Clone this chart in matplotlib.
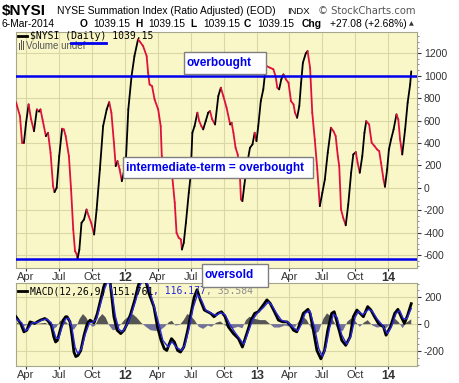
import numpy as np
import pandas as pd
import matplotlib
matplotlib.use("Agg")
import matplotlib.pyplot as plt
import matplotlib.dates as mdates
from matplotlib.collections import LineCollection
from matplotlib.patches import Rectangle
from matplotlib.lines import Line2D
from matplotlib.ticker import MultipleLocator

# $NYSI summation index
nysi_dates = [
    "2011-03-04", "2011-03-15", "2011-03-21", "2011-03-26", "2011-04-01", "2011-04-08", "2011-04-15",
    "2011-04-23", "2011-05-01", "2011-05-07", "2011-05-11", "2011-05-17", "2011-05-26", "2011-06-01",
    "2011-06-08", "2011-06-15", "2011-06-19", "2011-06-25", "2011-07-02", "2011-07-10", "2011-07-15",
    "2011-07-20", "2011-07-29", "2011-08-04", "2011-08-10", "2011-08-15", "2011-08-19", "2011-08-22",
    "2011-08-27", "2011-09-02", "2011-09-09", "2011-09-16", "2011-09-22", "2011-09-29", "2011-10-07",
    "2011-10-14", "2011-10-23", "2011-11-01", "2011-11-11", "2011-11-18", "2011-11-24", "2011-12-01",
    "2011-12-06", "2011-12-11", "2011-12-17", "2011-12-23", "2012-01-03", "2012-01-10", "2012-01-19",
    "2012-01-27", "2012-02-06", "2012-02-10", "2012-02-20", "2012-03-01", "2012-03-05", "2012-03-09",
    "2012-03-16", "2012-03-23", "2012-04-02", "2012-04-09", "2012-04-12", "2012-04-26", "2012-05-11",
    "2012-05-18", "2012-05-23", "2012-05-29", "2012-06-04", "2012-06-07", "2012-06-12", "2012-06-18",
    "2012-06-26", "2012-07-01", "2012-07-06", "2012-07-12", "2012-07-20", "2012-07-25", "2012-07-31",
    "2012-08-05", "2012-08-12", "2012-08-19", "2012-08-24", "2012-08-30", "2012-09-07", "2012-09-16",
    "2012-09-23", "2012-09-30", "2012-10-09", "2012-10-19", "2012-10-23", "2012-10-28", "2012-11-03",
    "2012-11-09", "2012-11-15", "2012-11-18", "2012-11-22", "2012-11-27", "2012-12-04", "2012-12-13",
    "2012-12-20", "2012-12-26", "2012-12-31", "2013-01-05", "2013-01-12", "2013-01-19", "2013-01-24",
    "2013-01-28", "2013-02-07", "2013-02-16", "2013-02-22", "2013-02-27", "2013-03-04", "2013-03-10",
    "2013-03-16", "2013-03-23", "2013-03-30", "2013-04-06", "2013-04-13", "2013-04-17", "2013-04-23",
    "2013-04-29", "2013-05-04", "2013-05-09", "2013-05-17", "2013-05-22", "2013-05-29", "2013-06-04",
    "2013-06-11", "2013-06-18", "2013-06-25", "2013-07-02", "2013-07-09", "2013-07-17", "2013-07-26",
    "2013-08-02", "2013-08-08", "2013-08-14", "2013-08-18", "2013-08-23", "2013-08-29", "2013-09-05",
    "2013-09-12", "2013-09-20", "2013-09-26", "2013-10-03", "2013-10-08", "2013-10-14", "2013-10-21",
    "2013-10-27", "2013-11-01", "2013-11-09", "2013-11-16", "2013-11-24", "2013-12-01", "2013-12-07",
    "2013-12-12", "2013-12-19", "2013-12-23", "2013-12-29", "2014-01-03", "2014-01-09", "2014-01-16",
    "2014-01-24", "2014-01-29", "2014-02-03", "2014-02-09", "2014-02-17", "2014-02-24", "2014-03-03",
    "2014-03-06",
]
nysi_values = [
    764, 639, 402, 402, 580, 744, 610,
    505, 699, 680, 699, 604, 461, 491,
    312, 14, -39, 0, 282, 527, 521,
    461, 282, -15, -372, -566, -587, -634,
    -551, -313, -283, -194, -254, -313, -417,
    -194, 163, 550, 699, 764, 670, 402,
    193, 238, 163, 59, 223, 699, 996,
    1175, 1324, 1309, 1265, 1175, 1027, 922,
    907, 788, 699, 550, 282, 190, 104,
    -134, -402, -446, -461, -551, -491, -313,
    -45, 104, 491, 550, 670, 595, 550,
    521, 595, 670, 684, 610, 565, 818,
    893, 818, 714, 565, 580, 491, 357,
    297, 104, -104, -119, 14, 193, 357,
    387, 491, 416, 550, 773, 878, 1027,
    1086, 1071, 1057, 996, 893, 878, 967,
    1012, 967, 937, 773, 744, 670, 625,
    729, 937, 1116, 1199, 1220, 1070, 670,
    431, 163, -164, -45, 74, 312, 536,
    505, 461, 282, 193, -194, -268, -335,
    -149, 134, 297, 318, 223, 134, 282,
    491, 595, 565, 402, 372, 342, 327,
    223, 74, 9, 163, 342, 431, 521,
    655, 610, 431, 297, 521, 759, 922,
    1039.15,
]

# MACD(12,26,9) line
macd_dates = [
    "2011-03-04", "2011-03-17", "2011-03-26", "2011-04-03", "2011-04-12", "2011-04-25", "2011-05-02",
    "2011-05-11", "2011-05-23", "2011-05-30", "2011-06-10", "2011-06-17", "2011-06-22", "2011-06-27",
    "2011-07-06", "2011-07-13", "2011-07-20", "2011-07-24", "2011-08-01", "2011-08-07", "2011-08-12",
    "2011-08-17", "2011-08-23", "2011-08-31", "2011-09-09", "2011-09-18", "2011-09-26", "2011-10-02",
    "2011-10-07", "2011-10-16", "2011-10-25", "2011-11-03", "2011-11-12", "2011-11-20", "2011-11-26",
    "2011-12-01", "2011-12-10", "2011-12-20", "2011-12-29", "2012-01-07", "2012-01-17", "2012-01-28",
    "2012-02-06", "2012-02-15", "2012-02-26", "2012-03-07", "2012-03-21", "2012-03-31", "2012-04-10",
    "2012-04-19", "2012-04-26", "2012-05-03", "2012-05-09", "2012-05-17", "2012-05-26", "2012-06-03",
    "2012-06-12", "2012-06-23", "2012-07-02", "2012-07-11", "2012-07-19", "2012-07-28", "2012-08-08",
    "2012-08-17", "2012-08-26", "2012-09-04", "2012-09-15", "2012-09-25", "2012-10-05", "2012-10-14",
    "2012-10-28", "2012-11-11", "2012-11-22", "2012-12-04", "2012-12-16", "2012-12-26", "2013-01-05",
    "2013-01-19", "2013-01-29", "2013-02-07", "2013-02-19", "2013-03-02", "2013-03-14", "2013-03-26",
    "2013-04-04", "2013-04-13", "2013-04-22", "2013-05-01", "2013-05-10", "2013-05-23", "2013-05-29",
    "2013-06-07", "2013-06-17", "2013-06-28", "2013-07-08", "2013-07-17", "2013-07-28", "2013-08-04",
    "2013-08-14", "2013-08-25", "2013-09-05", "2013-09-17", "2013-09-26", "2013-10-06", "2013-10-15",
    "2013-10-24", "2013-11-05", "2013-11-14", "2013-11-24", "2013-12-05", "2013-12-19", "2013-12-26",
    "2014-01-07", "2014-01-19", "2014-01-28", "2014-02-06", "2014-02-15", "2014-02-24", "2014-03-06",
]
macd_values = [
    55, 5, -57, -45, 17, 5, 17,
    30, 42, 30, -7, -95, -132, -120,
    -32, 30, 55, 55, 17, -95, -207,
    -240, -232, -195, -82, 5, 30, 17,
    10, 80, 180, 280, 340, 320, 180,
    55, -45, -70, -45, 5, 80, 180,
    280, 350, 340, 230, 130, -20, -120,
    -182, -195, -145, -107, -132, -195, -207,
    -170, -45, 80, 200, 255, 180, 105,
    92, 80, 55, 80, 92, 55, -20,
    -70, -107, -170, -70, 30, 80, 92,
    142, 180, 155, 92, 30, 17, 17,
    -7, -45, -57, 5, 80, 110, 80,
    -45, -195, -257, -195, -45, 80, 92,
    -7, -120, -157, -95, 55, 105, 80,
    55, 130, 105, 55, 5, -20, -82,
    -20, 80, 110, 55, 5, 67, 151.761,
]

# signal line
signal_dates = [
    "2011-03-04", "2011-03-20", "2011-03-30", "2011-04-08", "2011-04-18", "2011-05-01", "2011-05-15",
    "2011-05-28", "2011-06-10", "2011-06-22", "2011-06-30", "2011-07-10", "2011-07-20", "2011-07-28",
    "2011-08-06", "2011-08-15", "2011-08-23", "2011-09-02", "2011-09-13", "2011-09-24", "2011-10-05",
    "2011-10-14", "2011-10-25", "2011-11-05", "2011-11-15", "2011-11-25", "2011-12-05", "2011-12-15",
    "2011-12-25", "2012-01-05", "2012-01-17", "2012-01-30", "2012-02-10", "2012-02-22", "2012-03-05",
    "2012-03-20", "2012-04-02", "2012-04-15", "2012-04-30", "2012-05-10", "2012-05-22", "2012-06-06",
    "2012-06-16", "2012-06-27", "2012-07-08", "2012-07-20", "2012-07-31", "2012-08-12", "2012-08-28",
    "2012-09-10", "2012-09-22", "2012-10-05", "2012-10-18", "2012-11-01", "2012-11-15", "2012-11-26",
    "2012-12-08", "2012-12-20", "2013-01-02", "2013-01-20", "2013-02-02", "2013-02-12", "2013-02-25",
    "2013-03-10", "2013-03-28", "2013-04-10", "2013-04-25", "2013-05-05", "2013-05-15", "2013-05-28",
    "2013-06-10", "2013-06-22", "2013-07-02", "2013-07-12", "2013-07-22", "2013-08-02", "2013-08-12",
    "2013-08-25", "2013-09-08", "2013-09-20", "2013-10-01", "2013-10-10", "2013-10-22", "2013-11-08",
    "2013-11-18", "2013-12-01", "2013-12-15", "2013-12-30", "2014-01-10", "2014-01-23", "2014-02-02",
    "2014-02-12", "2014-02-22", "2014-03-06",
]
signal_values = [
    40, 10, -50, -30, 10, 10, 30,
    38, 10, -95, -110, -20, 40, 45,
    -20, -170, -220, -180, -70, 10, 15,
    40, 150, 260, 330, 250, 60, -40,
    -55, -10, 60, 170, 280, 340, 290,
    150, 20, -120, -170, -130, -170, -195,
    -150, -30, 120, 220, 180, 105, 80,
    65, 85, 70, 0, -60, -110, -150,
    -60, 30, 80, 125, 165, 140, 80,
    30, 15, -20, -50, 0, 80, 100,
    -20, -180, -240, -170, -30, 75, 50,
    -80, -150, -85, 50, 95, 70, 110,
    95, 40, -5, -70, -20, 80, 100,
    40, 40, 116.177,
]

# histogram (MACD - signal)
hist_dates = [
    "2011-03-04", "2011-03-15", "2011-03-25", "2011-04-05", "2011-04-15", "2011-04-28", "2011-05-10",
    "2011-05-25", "2011-06-05", "2011-06-15", "2011-06-25", "2011-07-05", "2011-07-15", "2011-07-25",
    "2011-08-05", "2011-08-12", "2011-08-20", "2011-08-28", "2011-09-06", "2011-09-15", "2011-09-25",
    "2011-10-03", "2011-10-10", "2011-10-20", "2011-10-30", "2011-11-08", "2011-11-18", "2011-11-28",
    "2011-12-08", "2011-12-18", "2011-12-30", "2012-01-10", "2012-01-22", "2012-02-02", "2012-02-15",
    "2012-02-28", "2012-03-12", "2012-03-25", "2012-04-08", "2012-04-20", "2012-05-02", "2012-05-10",
    "2012-05-20", "2012-06-01", "2012-06-12", "2012-06-22", "2012-07-02", "2012-07-12", "2012-07-24",
    "2012-08-05", "2012-08-18", "2012-08-28", "2012-09-10", "2012-09-22", "2012-10-05", "2012-10-15",
    "2012-10-28", "2012-11-10", "2012-11-22", "2012-12-02", "2012-12-12", "2012-12-25", "2013-01-10",
    "2013-01-25", "2013-02-05", "2013-02-18", "2013-03-05", "2013-03-20", "2013-04-05", "2013-04-18",
    "2013-04-30", "2013-05-10", "2013-05-20", "2013-06-01", "2013-06-12", "2013-06-22", "2013-07-05",
    "2013-07-15", "2013-07-25", "2013-08-05", "2013-08-15", "2013-08-28", "2013-09-10", "2013-09-22",
    "2013-10-02", "2013-10-14", "2013-10-25", "2013-11-05", "2013-11-18", "2013-12-01", "2013-12-15",
    "2013-12-26", "2014-01-08", "2014-01-20", "2014-01-30", "2014-02-10", "2014-02-20", "2014-03-06",
]
hist_values = [
    15, 0, -15, -5, 10, 0, 5,
    10, -10, -40, -20, 25, 30, 5,
    -35, -40, -10, 40, 75, 50, 0,
    -20, -10, 45, 75, 50, -10, -45,
    -40, -10, 30, 55, 75, 50, 10,
    -20, -45, -50, -45, -20, 15, 25,
    -10, -5, 30, 75, 60, 30, -20,
    -35, -10, -20, 10, 20, -10, -25,
    -30, -20, -30, 30, 55, 40, 30,
    30, 5, -25, -25, -10, -20, -20,
    30, 55, 30, -30, -70, -55, 40,
    80, 60, 10, -45, -50, 20, 45,
    20, -20, 10, 30, -10, -25, -20,
    -30, 5, 40, 15, -30, 10, 35.584,
]

tick_dates = ["2011-04-01", "2011-07-01", "2011-10-01", "2012-01-01", "2012-04-01", "2012-07-01",
              "2012-10-01", "2013-01-01", "2013-04-01", "2013-07-01", "2013-10-01", "2014-01-01"]
tick_labels = ["Apr", "Jul", "Oct", "12", "Apr", "Jul", "Oct", "13", "Apr", "Jul", "Oct", "14"]

overbought = 1000
oversold = -640

W, H = 460, 383
BG = "#F9F7C8"
GRID = "#D9D7A3"
EDGE = "#A6A68A"
RED = "#E0103C"
BLUE = "#0000EE"
SIGBLUE = "#2828DC"


def fx(px):
    return px / W


def fy(py):
    return 1 - py / H


fig = plt.figure(figsize=(W / 100, H / 100), dpi=100)
fig.patch.set_facecolor("white")

ax = fig.add_axes([fx(16), fy(268), fx(417) - fx(16), fy(32) - fy(268)])
ax2 = fig.add_axes([fx(16), fy(366), fx(417) - fx(16), fy(283) - fy(366)])

xlim = mdates.date2num(pd.to_datetime(["2011-03-04", "2014-03-22"]))
ticks = mdates.date2num(pd.to_datetime(tick_dates))

for a in (ax, ax2):
    a.set_facecolor(BG)
    a.set_xlim(xlim)
    a.set_xticks(ticks)
    a.set_xticklabels(tick_labels, fontsize=8, family="Liberation Sans")
    for lab in a.get_xticklabels():
        if lab.get_text().isdigit():
            lab.set_fontweight("bold")
            lab.set_fontsize(9)
    a.grid(True, which="major", color=GRID, lw=0.8)
    a.set_axisbelow(True)
    a.yaxis.tick_right()
    a.yaxis.set_minor_locator(MultipleLocator(50))
    a.tick_params(axis="x", length=2, pad=1, colors="#333333")
    a.tick_params(axis="y", which="major", length=3, pad=2, labelsize=7.5, colors="#333333")
    a.tick_params(axis="y", which="minor", length=1.5, colors="#777777")
    for s in a.spines.values():
        s.set_color(EDGE)
        s.set_linewidth(0.8)

# main panel: black while rising, red while falling
x = mdates.date2num(pd.to_datetime(nysi_dates))
y = np.array(nysi_values, dtype=float)
pts = np.column_stack([x, y])
segs = np.stack([pts[:-1], pts[1:]], axis=1)
cols = ["black" if b > a else RED for a, b in zip(y[:-1], y[1:])]
ax.add_collection(LineCollection(segs, colors=cols, linewidths=1.3, capstyle="round",
                                 joinstyle="round", zorder=3))
ax.axhline(overbought, color=BLUE, lw=1.8, zorder=4)
ax.axhline(oversold, color=BLUE, lw=1.8, zorder=4)
ax.set_ylim(-716, 1390)
ax.set_yticks(np.arange(-600, 1201, 200))
ax.set_yticklabels([str(v) for v in range(-600, 1201, 200)], family="Liberation Sans", fontsize=7.5)

ax.plot([0.006, 0.028], [0.983, 0.983], transform=ax.transAxes, color="black", lw=2, zorder=5)
ax.text(0.036, 0.983, "$NYSI (Daily) 1039.15", transform=ax.transAxes, family="DejaVu Sans Mono",
        fontsize=7, va="center", zorder=5)
ax.bar([0.008, 0.013, 0.018], [0.03, 0.04, 0.035], width=0.003, bottom=0.925,
       transform=ax.transAxes, color="#555555", zorder=5)
ax.text(0.024, 0.941, "Volume undef", transform=ax.transAxes, family="Liberation Sans",
        fontsize=7, va="center", color="#555555", zorder=5)

# MACD panel
mx = mdates.date2num(pd.to_datetime(macd_dates))
sx = mdates.date2num(pd.to_datetime(signal_dates))
hx = mdates.date2num(pd.to_datetime(hist_dates))
hv = np.array(hist_values, dtype=float)
ax2.fill_between(hx, 0, hv, where=hv >= 0, interpolate=True, color="#555555", lw=0, zorder=2)
ax2.fill_between(hx, 0, hv, where=hv <= 0, interpolate=True, color="#70709A", lw=0, zorder=2)
ax2.plot(mx, macd_values, color="black", lw=2, zorder=3)
ax2.plot(sx, signal_values, color=SIGBLUE, lw=1, zorder=4)
ax2.set_ylim(-310, 305)
ax2.set_yticks([-200, 0, 200])
ax2.set_yticklabels(["-200", "0", "200"], family="Liberation Sans", fontsize=7.5)

ch = 0.01459  # one monospace character in axes fraction
ax2.plot([0.006, 0.028], [0.9, 0.9], transform=ax2.transAxes, color="black", lw=2, zorder=5)
ax2.text(0.036, 0.9, "MACD(12,26,9) 151.761", transform=ax2.transAxes, family="DejaVu Sans Mono",
         fontsize=7, va="center", zorder=5)
ax2.text(0.036 + 21 * ch, 0.9, ", 116.177", transform=ax2.transAxes, family="DejaVu Sans Mono",
         fontsize=7, va="center", color=SIGBLUE, zorder=5)
ax2.text(0.036 + 30 * ch, 0.9, ", 35.584", transform=ax2.transAxes, family="DejaVu Sans Mono",
         fontsize=7, va="center", color="#8C8C8C", zorder=5)

# header
fig.text(fx(2), fy(11), "$NYSI", fontsize=11, weight="bold", family="Liberation Sans", va="center")
fig.text(fx(57), fy(11), "NYSE Summation Index (Ratio Adjusted) (EOD)", fontsize=7.4,
         family="Liberation Sans", va="center")
fig.text(fx(287), fy(11.5), "INDX", fontsize=6.8, family="Liberation Sans", va="center")
fig.text(fx(318), fy(11), "\u00a9 StockCharts.com", fontsize=7.2, family="DejaVu Sans",
         va="center", color="#555555")

row = [(2, "6-Mar-2014", "normal"), (80, "O", "bold"), (93, "1039.15", "normal"),
       (135, "H", "bold"), (148, "1039.15", "normal"), (190, "L", "bold"), (203, "1039.15", "normal"),
       (244, "C", "bold"), (257, "1039.15", "normal"), (302, "Chg", "bold"),
       (330, "+27.08 (+2.68%)", "normal")]
for px, s, w in row:
    fig.text(fx(px), fy(24), s, fontsize=7.4, weight=w, family="Liberation Sans", va="center")
fig.text(fx(409), fy(23.5), "\u25b2", fontsize=4.5, family="DejaVu Sans", va="center", color="#333333")

fig.add_artist(Line2D([fx(71), fx(106)], [fy(43), fy(43)], color=BLUE, lw=2, zorder=6))


def note(x0, y0, x1, y1, text):
    fig.add_artist(Rectangle((fx(x0), fy(y1)), fx(x1) - fx(x0), fy(y0) - fy(y1),
                             transform=fig.transFigure, facecolor="white", edgecolor="#7F7F7F",
                             lw=1, zorder=10))
    fig.text(fx(x0 + 3), fy((y0 + y1) / 2), text, color=BLUE, weight="bold",
             family="Liberation Sans", fontsize=8.5, va="center", zorder=11)


note(184, 52, 266, 74, "overbought")
note(123, 157, 313, 178, "intermediate-term = overbought")
note(202, 264, 268, 287, "oversold")

fig.savefig("out.png", dpi=100)
